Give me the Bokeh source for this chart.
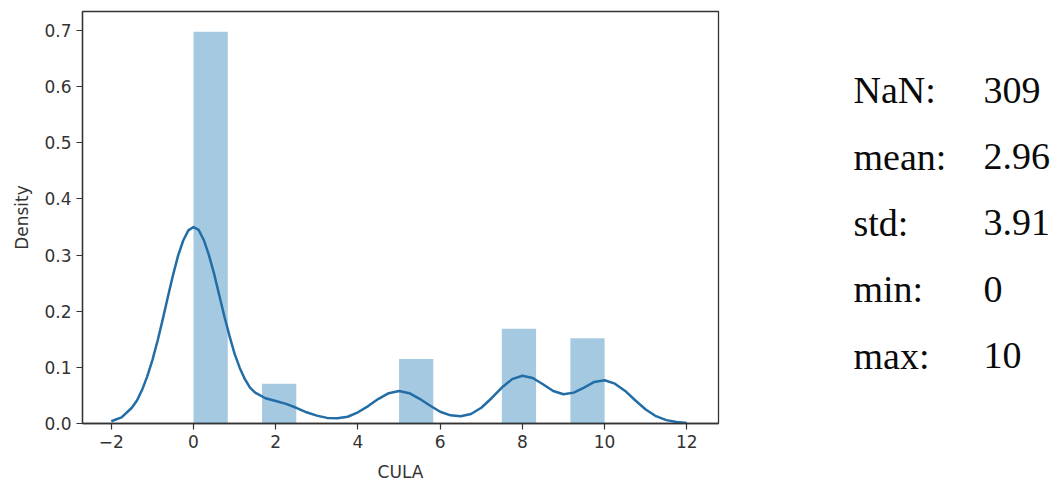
from bokeh.plotting import figure
from bokeh.layouts import row
from bokeh.models import Range1d, FixedTicker, ColumnDataSource
from bokeh.core.properties import value
from bokeh.embed import file_html
from bokeh.resources import INLINE

# ---- data ----
bin_edges = [0.0, 0.833, 1.667, 2.5, 3.333, 4.167, 5.0, 5.833, 6.667, 7.5, 8.333, 9.167, 10.0]
bin_density = [0.698, 0.0, 0.071, 0.0, 0.0, 0.0, 0.115, 0.0, 0.0, 0.169, 0.0, 0.152]

kde_x = [-2.0, -1.75, -1.5, -1.375, -1.25, -1.125, -1.0, -0.875, -0.75, -0.625, -0.5, -0.375,
         -0.25, -0.125, 0.0, 0.125, 0.25, 0.375, 0.5, 0.625, 0.75, 0.875,
         1.0, 1.125, 1.25, 1.375, 1.5, 1.75, 2.0, 2.25, 2.5, 2.75, 3.0, 3.25, 3.5, 3.75,
         4.0, 4.25, 4.5, 4.75, 5.0, 5.25, 5.5, 5.75, 6.0, 6.25, 6.5, 6.75,
         7.0, 7.25, 7.5, 7.75, 8.0, 8.25, 8.5, 8.75, 9.0, 9.25, 9.5, 9.75,
         10.0, 10.25, 10.5, 10.75, 11.0, 11.25, 11.5, 11.75, 12.0]
kde_y = [0.004, 0.011, 0.028, 0.041, 0.060, 0.084, 0.113, 0.147, 0.185, 0.225, 0.264, 0.299,
         0.326, 0.344, 0.350, 0.345, 0.327, 0.300, 0.267, 0.229, 0.191, 0.156,
         0.124, 0.099, 0.079, 0.064, 0.055, 0.045, 0.040, 0.035, 0.028, 0.020, 0.014, 0.010, 0.0095, 0.012,
         0.020, 0.031, 0.044, 0.054, 0.058, 0.054, 0.044, 0.032, 0.021, 0.0145, 0.013, 0.017,
         0.028, 0.045, 0.064, 0.079, 0.085, 0.081, 0.070, 0.058, 0.052, 0.055, 0.064, 0.074,
         0.077, 0.071, 0.058, 0.041, 0.025, 0.013, 0.006, 0.0025, 0.001]

x_ticks = [-2, 0, 2, 4, 6, 8, 10, 12]
y_ticks = [0.0, 0.1, 0.2, 0.3, 0.4, 0.5, 0.6, 0.7]
x_label = "CULA"
y_label = "Density"

stat_names = ["NaN:", "mean:", "std:", "min:", "max:"]
stat_values = ["309", "2.96", "3.91", "0", "10"]

# ---- layout constants (pixels) ----
W1, W2, H = 748, 312, 484
TOP, BOTTOM = 11, 60

FONT = "DejaVu Sans"
AX = "#333333"

p = figure(width=W1, height=H, output_backend="svg", toolbar_location=None,
           x_range=Range1d(-2.70, 12.77), y_range=Range1d(0, 0.734),
           min_border_left=82, min_border_right=30, min_border_top=TOP, min_border_bottom=BOTTOM)
p.grid.visible = False
p.background_fill_color = "white"
p.border_fill_color = "white"
p.outline_line_color = AX
p.outline_line_width = 1.3

src = ColumnDataSource(dict(left=bin_edges[:-1], right=bin_edges[1:], top=bin_density))
p.quad(left="left", right="right", top="top", bottom=0, source=src,
       fill_color="#1f77b4", fill_alpha=0.4, line_color=None)
p.line(kde_x, kde_y, line_color="#236da6", line_width=2.5, line_join="round")

for ax in (p.xaxis[0], p.yaxis[0]):
    ax.axis_line_color = AX
    ax.axis_line_width = 1.3
    ax.major_tick_line_color = AX
    ax.major_tick_line_width = 1.2
    ax.major_tick_out = 6
    ax.major_tick_in = 0
    ax.minor_tick_line_color = None
    ax.major_label_text_font = FONT
    ax.major_label_text_font_size = "17px"
    ax.major_label_text_color = "#333333"
    ax.axis_label_text_font = FONT
    ax.axis_label_text_font_size = "17px"
    ax.axis_label_text_font_style = "normal"
    ax.axis_label_text_color = "#333333"

p.xaxis.ticker = FixedTicker(ticks=x_ticks)
p.xaxis.major_label_overrides = {t: (str(t).replace("-", "\u2212")) for t in x_ticks}
p.xaxis.axis_label = x_label
p.xaxis.major_label_standoff = 5
p.xaxis.axis_label_standoff = 11

p.yaxis.ticker = FixedTicker(ticks=y_ticks)
p.yaxis.major_label_overrides = {t: f"{t:.1f}" for t in y_ticks}
p.yaxis.axis_label = y_label
p.yaxis.major_label_standoff = 5
p.yaxis.axis_label_standoff = 9

# ---- stats panel (data coordinates == page pixels) ----
p2 = figure(width=W2, height=H, output_backend="svg", toolbar_location=None,
            x_range=Range1d(W1, W1 + W2), y_range=Range1d(H - BOTTOM, TOP),
            min_border_left=0, min_border_right=0, min_border_top=TOP, min_border_bottom=BOTTOM)
p2.axis.visible = False
p2.grid.visible = False
p2.outline_line_color = None
p2.background_fill_color = "white"
p2.border_fill_color = "white"

ys = [90 + 66.5 * i for i in range(len(stat_names))]
p2.text(x=[853] * len(stat_names), y=ys, text=stat_names,
        text_font=value("Liberation Serif"), text_font_size="38px",
        text_baseline="alphabetic", text_align="left", text_color="#0a0a0a")
p2.text(x=[983] * len(stat_values), y=ys, text=stat_values,
        text_font=value("Liberation Serif"), text_font_size="38px",
        text_baseline="alphabetic", text_align="left", text_color="#0a0a0a")

layout = row(p, p2)
open("out.html", "w").write(file_html(layout, INLINE))
